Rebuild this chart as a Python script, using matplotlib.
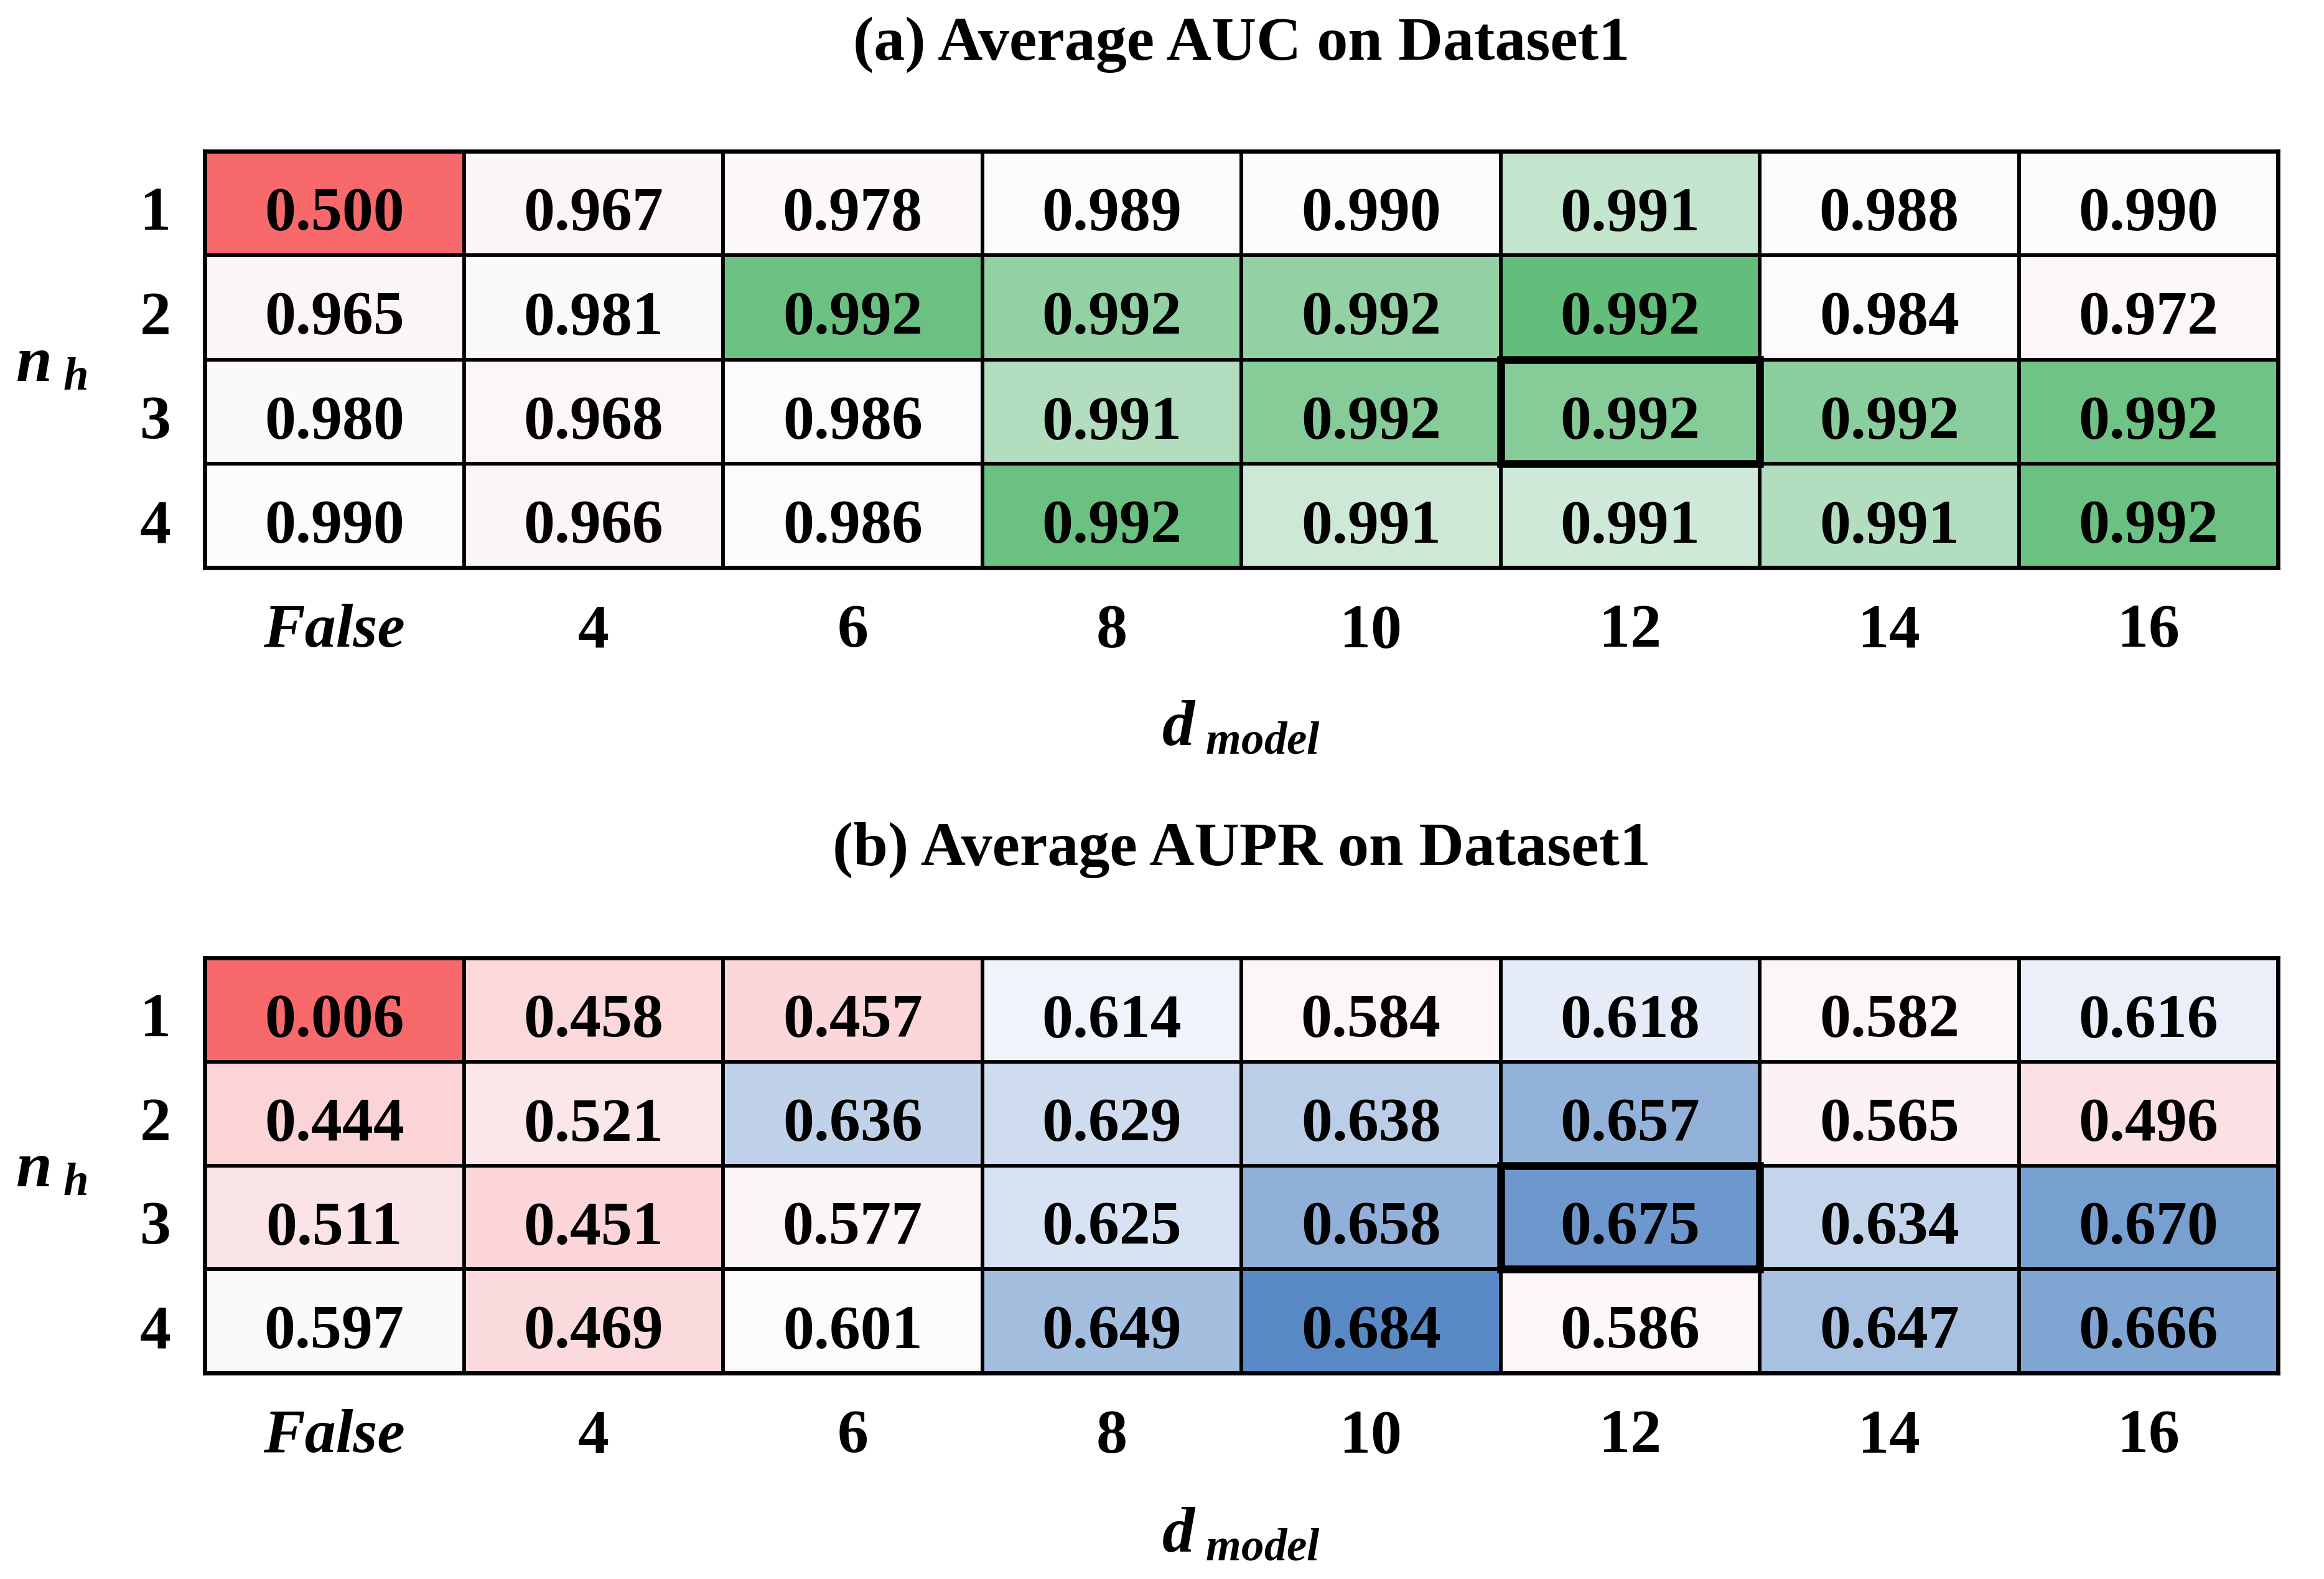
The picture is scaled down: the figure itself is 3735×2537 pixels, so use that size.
import numpy as np
import matplotlib
matplotlib.use("Agg")
import matplotlib.pyplot as plt
from matplotlib.colors import LinearSegmentedColormap, TwoSlopeNorm
from matplotlib.patches import Rectangle

# ---------------- data ----------------
d_model_labels = ["False", "4", "6", "8", "10", "12", "14", "16"]
n_h_labels = ["1", "2", "3", "4"]

# Average AUC (extra digits estimated from cell shading; shown rounded to 3 decimals)
auc_row1 = [0.500, 0.967, 0.978, 0.989, 0.9900, 0.99091, 0.988, 0.9900]
auc_row2 = [0.965, 0.981, 0.99230, 0.99169, 0.99167, 0.99245, 0.984, 0.972]
auc_row3 = [0.980, 0.968, 0.986, 0.99118, 0.99189, 0.99191, 0.99181, 0.99225]
auc_row4 = [0.9900, 0.966, 0.986, 0.99233, 0.99076, 0.99074, 0.99118, 0.99233]

# Average AUPR
aupr_row1 = [0.006, 0.458, 0.457, 0.614, 0.584, 0.618, 0.582, 0.616]
aupr_row2 = [0.444, 0.521, 0.636, 0.629, 0.638, 0.657, 0.565, 0.496]
aupr_row3 = [0.511, 0.451, 0.577, 0.625, 0.658, 0.675, 0.634, 0.670]
aupr_row4 = [0.597, 0.469, 0.601, 0.649, 0.684, 0.586, 0.647, 0.666]

best_cell = (2, 5)  # (row index, column index) highlighted

titles = ["(a) Average AUC on Dataset1", "(b) Average AUPR on Dataset1"]

auc = np.array([auc_row1, auc_row2, auc_row3, auc_row4])
aupr = np.array([aupr_row1, aupr_row2, aupr_row3, aupr_row4])

# ---------------- style ----------------
plt.rcParams["font.family"] = ["Liberation Serif", "DejaVu Serif"]
plt.rcParams["font.weight"] = "bold"
plt.rcParams["mathtext.fontset"] = "custom"
plt.rcParams["mathtext.it"] = "Liberation Serif:italic:bold"
plt.rcParams["mathtext.rm"] = "Liberation Serif:bold"
plt.rcParams["mathtext.bf"] = "Liberation Serif:bold"

RED = "#F8696B"
WHITE = "#FCFCFF"
GREEN = "#63BE7B"
BLUE = "#5A8AC6"

cmap_auc = LinearSegmentedColormap.from_list("rwg", [RED, WHITE, GREEN])
cmap_aupr = LinearSegmentedColormap.from_list("rwb", [RED, WHITE, BLUE])

FS = 24
BASE = 0.755  # baseline position of text within a row

fig = plt.figure(figsize=(3735 / 300, 2537 / 300), dpi=300)
fig.patch.set_facecolor("white")

axes_rects = [
    [329 / 3735, 1 - 912 / 2537, (3661 - 329) / 3735, (912 - 243) / 2537],
    [329 / 3735, 1 - 2206 / 2537, (3661 - 329) / 3735, (2206 - 1539) / 2537],
]
title_y = [1 - 72 / 2537, 1 - 1366 / 2537]
xlabel_y = [1 - 1172 / 2537, 1 - 2468 / 2537]
ylabel_y = [1 - 588 / 2537, 1 - 1882 / 2537]

for k, (data, cmap) in enumerate([(auc, cmap_auc), (aupr, cmap_aupr)]):
    ax = fig.add_axes(axes_rects[k])
    norm = TwoSlopeNorm(vmin=data.min(), vcenter=np.median(data), vmax=data.max())
    nr, nc = data.shape
    ax.pcolormesh(np.arange(nc + 1), np.arange(nr + 1), data, cmap=cmap, norm=norm,
                  edgecolors="black", linewidth=1.0)
    ax.set_xlim(0, nc)
    ax.set_ylim(nr, 0)
    for i in range(nr):
        for j in range(nc):
            ax.text(j + 0.5, i + BASE, f"{data[i, j]:.3f}", ha="center", va="baseline",
                    fontsize=FS, fontweight="bold", color="black")
    r, c = best_cell
    ax.add_patch(Rectangle((c, r), 1, 1, fill=False, edgecolor="black", linewidth=3.0,
                           zorder=5, clip_on=False))
    for s in ax.spines.values():
        s.set_linewidth(1.6)
        s.set_color("black")
    ax.set_xticks(np.arange(nc) + 0.5)
    ax.set_xticklabels(d_model_labels)
    ax.set_yticks(np.arange(nr) + BASE)
    ax.set_yticklabels(n_h_labels)
    ax.tick_params(axis="both", length=0, labelsize=FS)
    ax.tick_params(axis="x", pad=14)
    ax.tick_params(axis="y", pad=13)
    for lab in ax.get_xticklabels():
        lab.set_fontweight("bold")
        if lab.get_text() == "False":
            lab.set_fontstyle("italic")
    for lab in ax.get_yticklabels():
        lab.set_fontweight("bold")
        lab.set_va("baseline")

    cx = (axes_rects[k][0] + axes_rects[k][0] + axes_rects[k][2]) / 2
    fig.text(cx, title_y[k], titles[k], ha="center", va="center", fontsize=FS,
             fontweight="bold")
    fig.text(cx, xlabel_y[k], r"$d_{\ model}$", ha="center", va="center", fontsize=FS + 1)
    fig.text(83 / 3735, ylabel_y[k], r"$n_{\ h}$", ha="center", va="center", fontsize=FS + 1)

fig.savefig("out.png", dpi=300, facecolor="white")
